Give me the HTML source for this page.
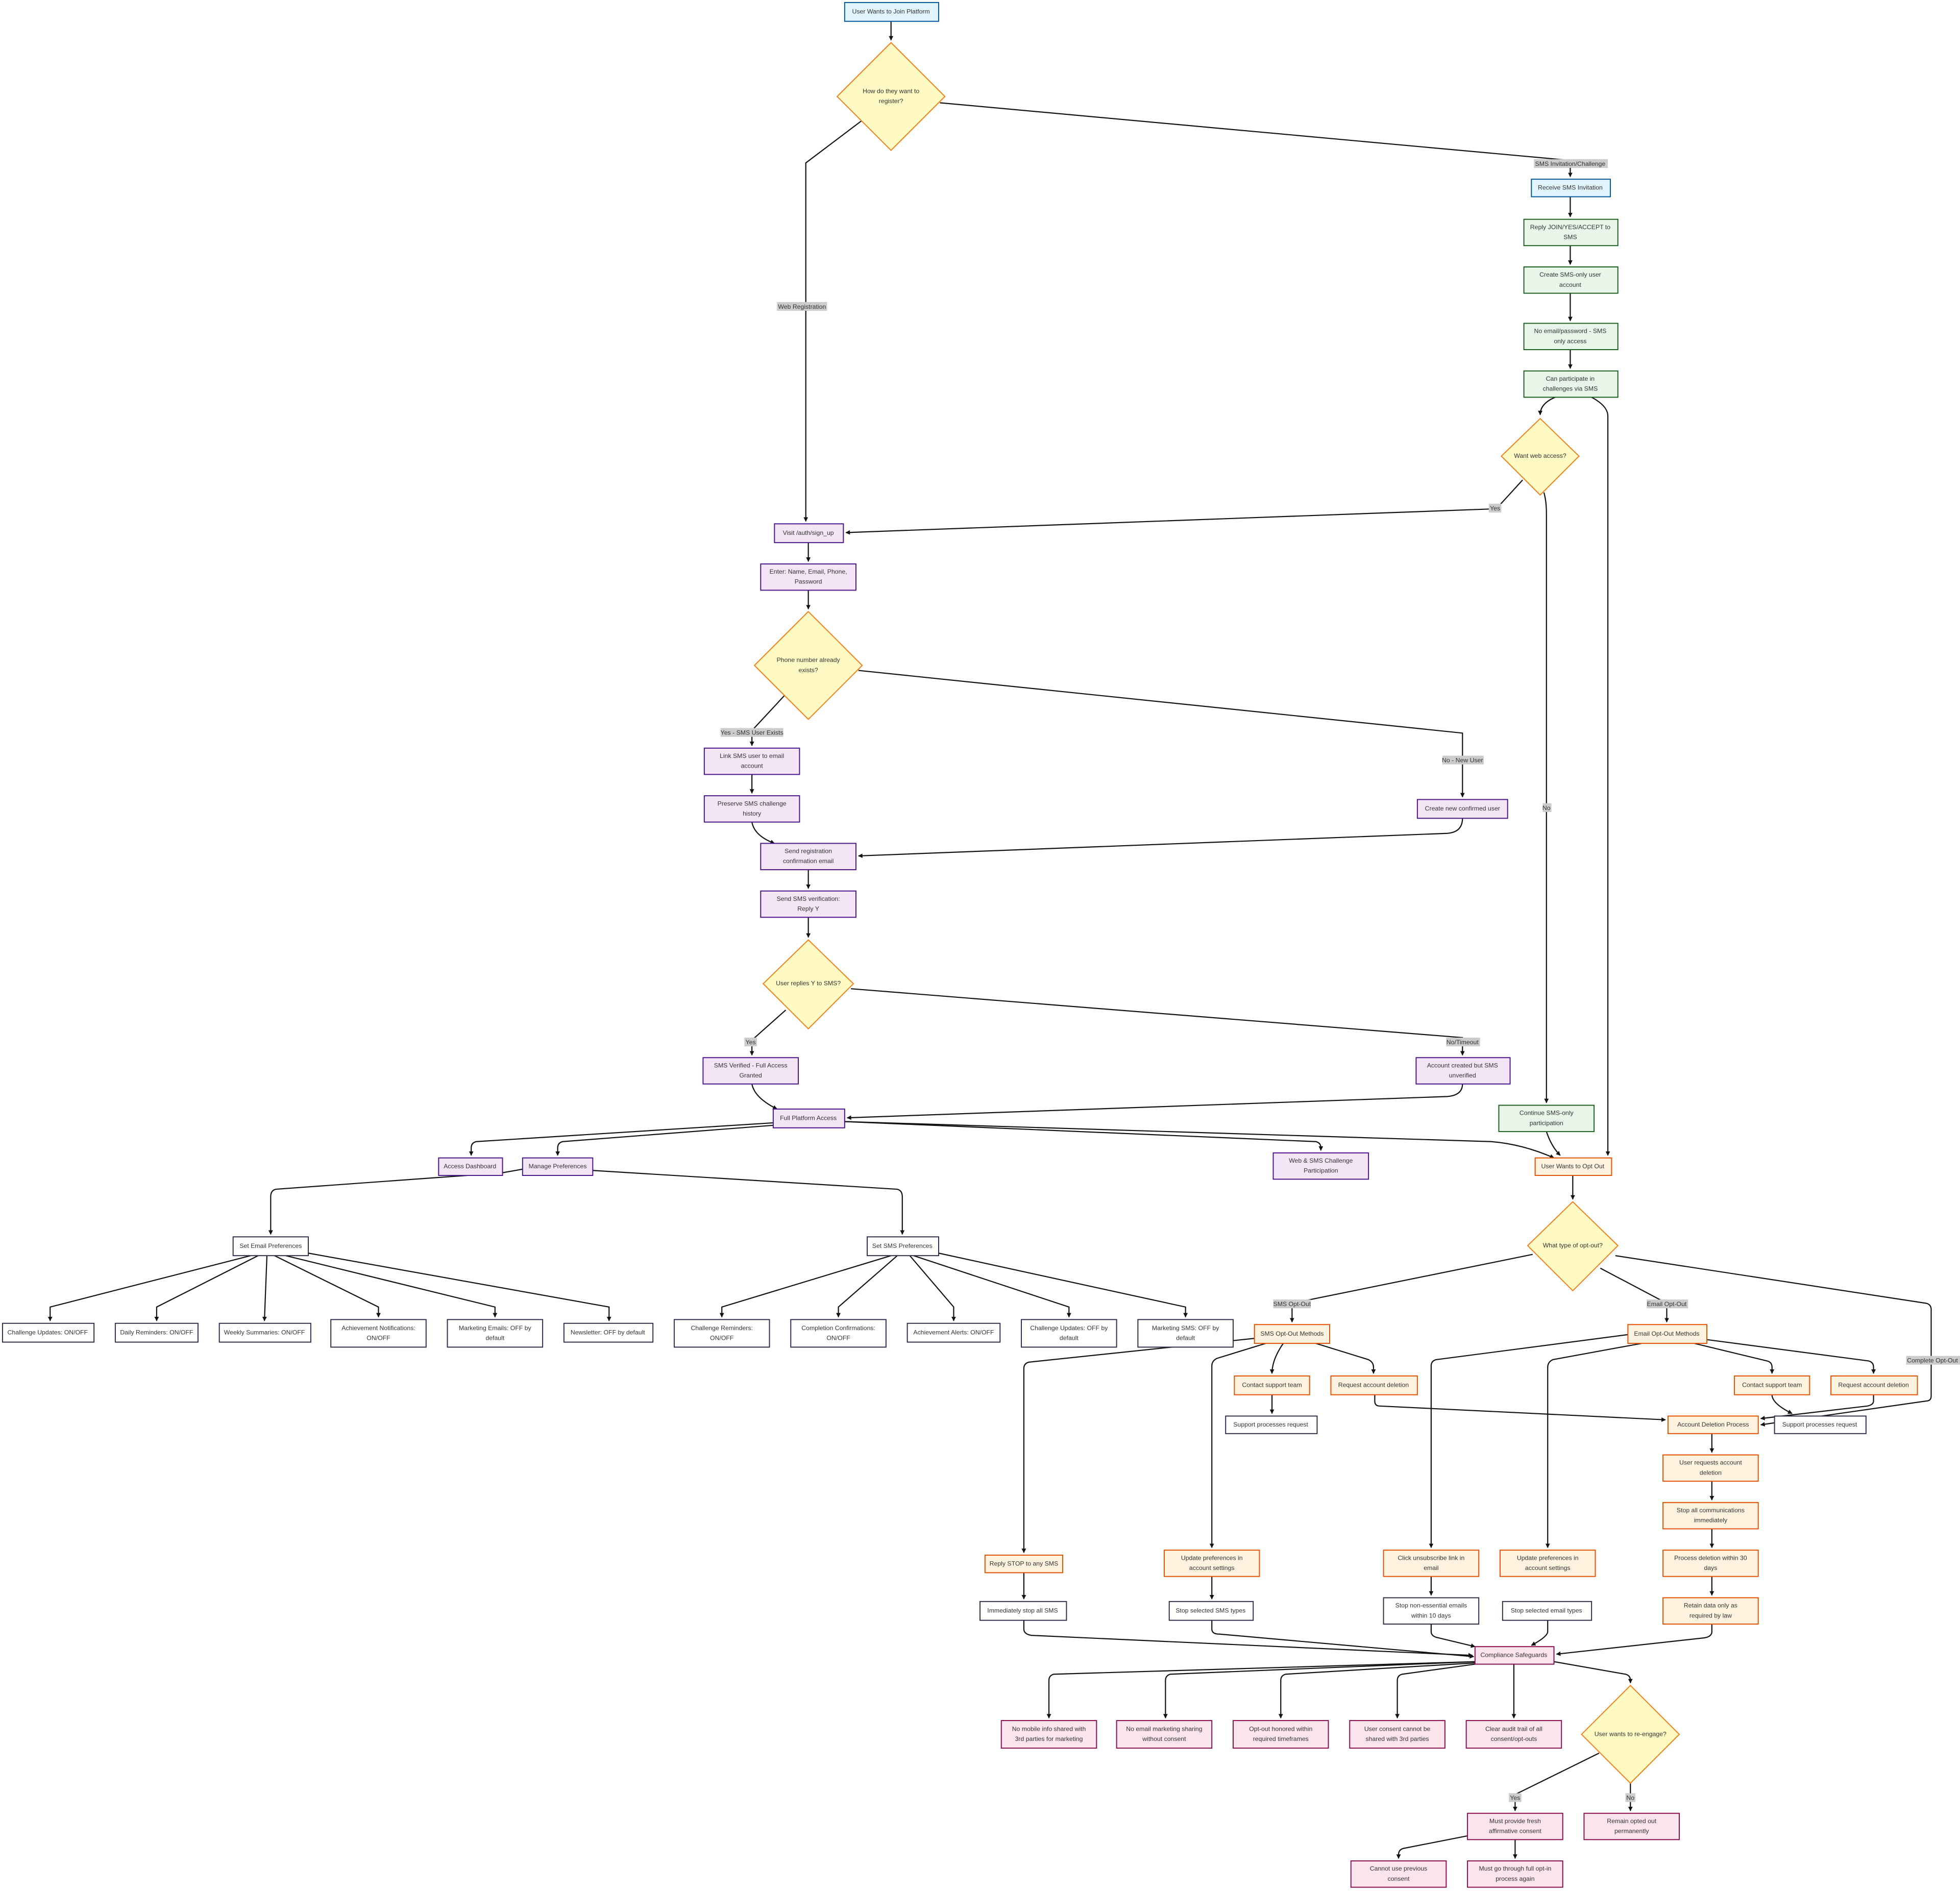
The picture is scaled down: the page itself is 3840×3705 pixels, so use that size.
<!DOCTYPE html>
<html><head><meta charset="utf-8"><style>
html,body{margin:0;padding:0;background:#fff}
svg{display:block}
text{font-family:"Liberation Sans",sans-serif;font-size:5px;fill:#333;text-anchor:middle;dominant-baseline:middle}
.e{fill:none;stroke:#111;stroke-width:0.9;marker-end:url(#a)}
.bl{fill:#e1f5fe;stroke:#01579b;stroke-width:0.8}
.gr{fill:#e8f5e9;stroke:#1b5e20;stroke-width:0.8}
.pu{fill:#f3e5f5;stroke:#4a148c;stroke-width:0.8}
.or{fill:#fff3e0;stroke:#e65100;stroke-width:0.8}
.pk{fill:#fce4ec;stroke:#880e4f;stroke-width:0.8}
.wh{fill:#fff;stroke:#2d2d4a;stroke-width:0.8}
.di{fill:#fff9c4;stroke:#f57f17;stroke-width:0.8}
.lb{fill:#ccc}
</style></head><body>
<svg width="3840" height="3705" viewBox="0 0 1564 1509" xmlns="http://www.w3.org/2000/svg">
<defs><marker id="a" viewBox="0 0 10 10" refX="9" refY="5" markerWidth="4" markerHeight="4" orient="auto"><path d="M0,0L10,5L0,10z" fill="#111"/></marker></defs>

<path class="e" d="M711,17V32"/>
<path class="e" d="M750,82L1253,128V141"/>
<path class="e" d="M688,96L643,130V416"/>
<path class="e" d="M1253,157V173"/>
<path class="e" d="M1253,196V211"/>
<path class="e" d="M1253,234V256"/>
<path class="e" d="M1253,279V294"/>
<path class="e" d="M1241,317Q1229,322 1229,331"/>
<path class="e" d="M1270,317Q1283,324 1283,332V922"/>
<path class="e" d="M1215,383L1194,406L675,425"/>
<path class="e" d="M1232,393Q1234,400 1234,410V880"/>
<path class="e" d="M645,433V448"/>
<path class="e" d="M645,471V486"/>
<path class="e" d="M626,555L600,583V595"/>
<path class="e" d="M685,535L1167,585V636"/>
<path class="e" d="M600,618V633"/>
<path class="e" d="M600,656Q602,667 618,673"/>
<path class="e" d="M1167,653Q1167,664 1155,665L685,683"/>
<path class="e" d="M645,694V709"/>
<path class="e" d="M645,732V748"/>
<path class="e" d="M627,806L600,830V842"/>
<path class="e" d="M679,789L1167,828V842"/>
<path class="e" d="M600,865Q602,876 620,885"/>
<path class="e" d="M1167,865Q1167,874 1155,875L676,892"/>
<path class="e" d="M617,896L380,911Q376,912 376,916V922"/>
<path class="e" d="M617,898L449,911Q445,912 445,916V922"/>
<path class="e" d="M674,895L1050,911Q1054,912 1054,916V918"/>
<path class="e" d="M674,895L1190,911Q1215,913 1240,924"/>
<path class="e" d="M1234,903Q1238,915 1245,922"/>
<path class="e" d="M417,933L400,936L220,949Q216,950 216,955V985"/>
<path class="e" d="M473,934L716,949Q720,950 720,955V985"/>
<path class="e" d="M200,1002L40,1043V1054"/>
<path class="e" d="M206,1002L125,1043V1054"/>
<path class="e" d="M213,1002L211,1054"/>
<path class="e" d="M219,1002L302,1043V1051"/>
<path class="e" d="M228,1002L395,1043V1051"/>
<path class="e" d="M246,1000L486,1043V1054"/>
<path class="e" d="M711,1002L576,1043V1051"/>
<path class="e" d="M716,1002L669,1043V1051"/>
<path class="e" d="M726,1002L761,1043V1054"/>
<path class="e" d="M729,1002L853,1043V1051"/>
<path class="e" d="M749,1000L946,1043V1051"/>
<path class="e" d="M1255,938V957"/>
<path class="e" d="M1223,1001L1031,1040V1055"/>
<path class="e" d="M1277,1012L1330,1040V1055"/>
<path class="e" d="M1289,1002L1537,1040Q1541,1041 1541,1045V1114Q1541,1118 1537,1118L1405,1137"/>
<path class="e" d="M1001,1068L821,1087Q817,1088 817,1092V1239"/>
<path class="e" d="M1010,1072L971,1084Q967,1086 967,1090V1235"/>
<path class="e" d="M1024,1072Q1015,1085 1015,1096"/>
<path class="e" d="M1050,1072L1092,1085Q1096,1087 1096,1091V1096"/>
<path class="e" d="M1015,1113V1128"/>
<path class="e" d="M1097,1113V1118Q1097,1122 1101,1122L1329,1133"/>
<path class="e" d="M1299,1065L1146,1085Q1142,1086 1142,1090V1235"/>
<path class="e" d="M1310,1072L1239,1085Q1235,1087 1235,1091V1235"/>
<path class="e" d="M1352,1072L1410,1086Q1414,1087 1414,1091V1096"/>
<path class="e" d="M1362,1069L1491,1086Q1495,1087 1495,1091V1096"/>
<path class="e" d="M1414,1113Q1414,1120 1430,1128"/>
<path class="e" d="M1495,1113V1118Q1495,1121 1490,1122L1405,1132"/>
<path class="e" d="M1366,1144V1159"/>
<path class="e" d="M1366,1182V1197"/>
<path class="e" d="M1366,1220V1235"/>
<path class="e" d="M1366,1258V1273"/>
<path class="e" d="M1366,1296V1302Q1366,1306 1360,1307L1242,1320"/>
<path class="e" d="M817,1255V1276"/>
<path class="e" d="M817,1293V1300Q817,1304 823,1305L1175,1321"/>
<path class="e" d="M967,1258V1276"/>
<path class="e" d="M967,1293V1300Q967,1304 973,1304L1176,1322"/>
<path class="e" d="M1142,1258V1273"/>
<path class="e" d="M1142,1296V1302Q1142,1306 1148,1307L1177,1314"/>
<path class="e" d="M1235,1293V1302Q1235,1306 1222,1313"/>
<path class="e" d="M1177,1326L841,1336Q837,1337 837,1341V1371"/>
<path class="e" d="M1177,1326L934,1336Q930,1337 930,1341V1371"/>
<path class="e" d="M1177,1327L1026,1336Q1022,1337 1022,1341V1371"/>
<path class="e" d="M1177,1328L1119,1336Q1115,1337 1115,1341V1371"/>
<path class="e" d="M1208,1328V1371"/>
<path class="e" d="M1240,1326L1297,1336Q1301,1337 1301,1341V1343"/>
<path class="e" d="M1276,1399L1209,1432V1445"/>
<path class="e" d="M1301,1423V1445"/>
<path class="e" d="M1171,1465L1120,1475Q1116,1476 1116,1480V1483"/>
<path class="e" d="M1209,1468V1483"/>

<rect class="lb" x="1224" y="127" width="59" height="7"/><text x="1253" y="131">SMS Invitation/Challenge</text>
<rect class="lb" x="620" y="241" width="40" height="7"/><text x="640" y="245">Web Registration</text>
<rect class="lb" x="1188" y="402" width="10" height="7"/><text x="1193" y="406">Yes</text>
<rect class="lb" x="1231" y="641" width="7" height="7"/><text x="1234" y="645">No</text>
<rect class="lb" x="575" y="581" width="50" height="7"/><text x="600" y="585">Yes - SMS User Exists</text>
<rect class="lb" x="1151" y="603" width="33" height="7"/><text x="1167" y="607">No - New User</text>
<rect class="lb" x="594" y="828" width="10" height="7"/><text x="599" y="832">Yes</text>
<rect class="lb" x="1154" y="828" width="27" height="7"/><text x="1167" y="832">No/Timeout</text>
<rect class="lb" x="1016" y="1037" width="30" height="7"/><text x="1031" y="1041">SMS Opt-Out</text>
<rect class="lb" x="1314" y="1037" width="33" height="7"/><text x="1330" y="1041">Email Opt-Out</text>
<rect class="lb" x="1521" y="1082" width="43" height="7"/><text x="1542" y="1086">Complete Opt-Out</text>
<rect class="lb" x="1204" y="1431" width="10" height="7"/><text x="1209" y="1435">Yes</text>
<rect class="lb" x="1297" y="1431" width="8" height="7"/><text x="1301" y="1435">No</text>

<polygon class="di" points="711,34 754,77 711,120 668,77"/><text x="711" y="73">How do they want to</text><text x="711" y="81">register?</text>
<polygon class="di" points="1229,334 1260,364 1229,395 1198,364"/><text x="1229" y="364">Want web access?</text>
<polygon class="di" points="645,488 688,531 645,574 602,531"/><text x="645" y="527">Phone number already</text><text x="645" y="535">exists?</text>
<polygon class="di" points="645,750 681,785 645,821 609,785"/><text x="645" y="785">User replies Y to SMS?</text>
<polygon class="di" points="1255,959 1291,994 1255,1030 1219,994"/><text x="1255" y="994">What type of opt-out?</text>
<polygon class="di" points="1301,1345 1340,1384 1301,1423 1262,1384"/><text x="1301" y="1384">User wants to re-engage?</text>

<rect class="bl" x="674" y="2" width="75" height="15"/><text x="711" y="9.5">User Wants to Join Platform</text>
<rect class="bl" x="1222" y="143" width="63" height="14"/><text x="1253" y="150">Receive SMS Invitation</text>
<rect class="gr" x="1216" y="175" width="75" height="21"/><text x="1253" y="181.5">Reply JOIN/YES/ACCEPT to</text><text x="1253" y="189.5">SMS</text>
<rect class="gr" x="1216" y="213" width="75" height="21"/><text x="1253" y="219.5">Create SMS-only user</text><text x="1253" y="227.5">account</text>
<rect class="gr" x="1216" y="258" width="75" height="21"/><text x="1253" y="264.5">No email/password - SMS</text><text x="1253" y="272.5">only access</text>
<rect class="gr" x="1216" y="296" width="75" height="21"/><text x="1253" y="302.5">Can participate in</text><text x="1253" y="310.5">challenges via SMS</text>
<rect class="pu" x="618" y="418" width="55" height="15"/><text x="645" y="425.5">Visit /auth/sign_up</text>
<rect class="pu" x="607" y="450" width="76" height="21"/><text x="645" y="456.5">Enter: Name, Email, Phone,</text><text x="645" y="464.5">Password</text>
<rect class="pu" x="562" y="597" width="76" height="21"/><text x="600" y="603.5">Link SMS user to email</text><text x="600" y="611.5">account</text>
<rect class="pu" x="562" y="635" width="76" height="21"/><text x="600" y="641.5">Preserve SMS challenge</text><text x="600" y="649.5">history</text>
<rect class="pu" x="1131" y="638" width="72" height="15"/><text x="1167" y="645.5">Create new confirmed user</text>
<rect class="pu" x="607" y="673" width="76" height="21"/><text x="645" y="679.5">Send registration</text><text x="645" y="687.5">confirmation email</text>
<rect class="pu" x="607" y="711" width="76" height="21"/><text x="645" y="717.5">Send SMS verification:</text><text x="645" y="725.5">Reply Y</text>
<rect class="pu" x="561" y="844" width="76" height="21"/><text x="599" y="850.5">SMS Verified - Full Access</text><text x="599" y="858.5">Granted</text>
<rect class="pu" x="1130" y="844" width="75" height="21"/><text x="1167" y="850.5">Account created but SMS</text><text x="1167" y="858.5">unverified</text>
<rect class="pu" x="617" y="885" width="57" height="15"/><text x="645" y="892.5">Full Platform Access</text>
<rect class="gr" x="1196" y="882" width="76" height="21"/><text x="1234" y="888.5">Continue SMS-only</text><text x="1234" y="896.5">participation</text>
<rect class="pu" x="350" y="924" width="51" height="14"/><text x="375" y="931">Access Dashboard</text>
<rect class="pu" x="417" y="924" width="56" height="14"/><text x="445" y="931">Manage Preferences</text>
<rect class="pu" x="1016" y="920" width="76" height="21"/><text x="1054" y="926.5">Web &amp; SMS Challenge</text><text x="1054" y="934.5">Participation</text>
<rect class="or" x="1225" y="924" width="61" height="14"/><text x="1255" y="931">User Wants to Opt Out</text>
<rect class="wh" x="186" y="987" width="60" height="15"/><text x="216" y="994.5">Set Email Preferences</text>
<rect class="wh" x="692" y="987" width="57" height="15"/><text x="720" y="994.5">Set SMS Preferences</text>

<rect class="wh" x="2" y="1056" width="73" height="15"/><text x="38" y="1063.5">Challenge Updates: ON/OFF</text>
<rect class="wh" x="92" y="1056" width="66" height="15"/><text x="125" y="1063.5">Daily Reminders: ON/OFF</text>
<rect class="wh" x="175" y="1056" width="73" height="15"/><text x="211" y="1063.5">Weekly Summaries: ON/OFF</text>
<rect class="wh" x="264" y="1053" width="76" height="22"/><text x="302" y="1060">Achievement Notifications:</text><text x="302" y="1068">ON/OFF</text>
<rect class="wh" x="357" y="1053" width="76" height="22"/><text x="395" y="1060">Marketing Emails: OFF by</text><text x="395" y="1068">default</text>
<rect class="wh" x="450" y="1056" width="71" height="15"/><text x="485" y="1063.5">Newsletter: OFF by default</text>
<rect class="wh" x="538" y="1053" width="76" height="22"/><text x="576" y="1060">Challenge Reminders:</text><text x="576" y="1068">ON/OFF</text>
<rect class="wh" x="631" y="1053" width="76" height="22"/><text x="669" y="1060">Completion Confirmations:</text><text x="669" y="1068">ON/OFF</text>
<rect class="wh" x="724" y="1056" width="74" height="15"/><text x="761" y="1063.5">Achievement Alerts: ON/OFF</text>
<rect class="wh" x="815" y="1053" width="76" height="22"/><text x="853" y="1060">Challenge Updates: OFF by</text><text x="853" y="1068">default</text>
<rect class="wh" x="908" y="1053" width="76" height="22"/><text x="946" y="1060">Marketing SMS: OFF by</text><text x="946" y="1068">default</text>

<rect class="or" x="1001" y="1057" width="60" height="15"/><text x="1031" y="1064.5">SMS Opt-Out Methods</text>
<rect class="or" x="1299" y="1057" width="63" height="15"/><text x="1330" y="1064.5">Email Opt-Out Methods</text>
<rect class="or" x="985" y="1098" width="60" height="15"/><text x="1015" y="1105.5">Contact support team</text>
<rect class="or" x="1062" y="1098" width="69" height="15"/><text x="1096" y="1105.5">Request account deletion</text>
<rect class="wh" x="978" y="1130" width="73" height="14"/><text x="1014" y="1137">Support processes request</text>
<rect class="or" x="1384" y="1098" width="60" height="15"/><text x="1414" y="1105.5">Contact support team</text>
<rect class="or" x="1461" y="1098" width="69" height="15"/><text x="1495" y="1105.5">Request account deletion</text>
<rect class="wh" x="1416" y="1130" width="73" height="14"/><text x="1452" y="1137">Support processes request</text>
<rect class="or" x="1331" y="1130" width="72" height="14"/><text x="1367" y="1137">Account Deletion Process</text>
<rect class="or" x="1327" y="1161" width="76" height="21"/><text x="1365" y="1167.5">User requests account</text><text x="1365" y="1175.5">deletion</text>
<rect class="or" x="1327" y="1199" width="76" height="21"/><text x="1365" y="1205.5">Stop all communications</text><text x="1365" y="1213.5">immediately</text>
<rect class="or" x="1327" y="1237" width="76" height="21"/><text x="1365" y="1243.5">Process deletion within 30</text><text x="1365" y="1251.5">days</text>
<rect class="or" x="1327" y="1275" width="76" height="21"/><text x="1365" y="1281.5">Retain data only as</text><text x="1365" y="1289.5">required by law</text>
<rect class="or" x="786" y="1241" width="62" height="14"/><text x="817" y="1248">Reply STOP to any SMS</text>
<rect class="wh" x="782" y="1278" width="69" height="15"/><text x="816" y="1285.5">Immediately stop all SMS</text>
<rect class="or" x="929" y="1237" width="76" height="21"/><text x="967" y="1243.5">Update preferences in</text><text x="967" y="1251.5">account settings</text>
<rect class="wh" x="933" y="1278" width="67" height="15"/><text x="966" y="1285.5">Stop selected SMS types</text>
<rect class="or" x="1104" y="1237" width="76" height="21"/><text x="1142" y="1243.5">Click unsubscribe link in</text><text x="1142" y="1251.5">email</text>
<rect class="wh" x="1104" y="1275" width="76" height="21"/><text x="1142" y="1281.5">Stop non-essential emails</text><text x="1142" y="1289.5">within 10 days</text>
<rect class="or" x="1197" y="1237" width="76" height="21"/><text x="1235" y="1243.5">Update preferences in</text><text x="1235" y="1251.5">account settings</text>
<rect class="wh" x="1199" y="1278" width="71" height="15"/><text x="1234" y="1285.5">Stop selected email types</text>
<rect class="pk" x="1177" y="1314" width="63" height="14"/><text x="1208" y="1321">Compliance Safeguards</text>
<rect class="pk" x="799" y="1373" width="76" height="22"/><text x="837" y="1380">No mobile info shared with</text><text x="837" y="1388">3rd parties for marketing</text>
<rect class="pk" x="891" y="1373" width="76" height="22"/><text x="929" y="1380">No email marketing sharing</text><text x="929" y="1388">without consent</text>
<rect class="pk" x="984" y="1373" width="76" height="22"/><text x="1022" y="1380">Opt-out honored within</text><text x="1022" y="1388">required timeframes</text>
<rect class="pk" x="1077" y="1373" width="76" height="22"/><text x="1115" y="1380">User consent cannot be</text><text x="1115" y="1388">shared with 3rd parties</text>
<rect class="pk" x="1170" y="1373" width="76" height="22"/><text x="1208" y="1380">Clear audit trail of all</text><text x="1208" y="1388">consent/opt-outs</text>
<rect class="pk" x="1171" y="1447" width="76" height="21"/><text x="1209" y="1453.5">Must provide fresh</text><text x="1209" y="1461.5">affirmative consent</text>
<rect class="pk" x="1264" y="1447" width="76" height="21"/><text x="1302" y="1453.5">Remain opted out</text><text x="1302" y="1461.5">permanently</text>
<rect class="pk" x="1078" y="1485" width="76" height="21"/><text x="1116" y="1491.5">Cannot use previous</text><text x="1116" y="1499.5">consent</text>
<rect class="pk" x="1171" y="1485" width="76" height="21"/><text x="1209" y="1491.5">Must go through full opt-in</text><text x="1209" y="1499.5">process again</text>
</svg>
</body></html>
